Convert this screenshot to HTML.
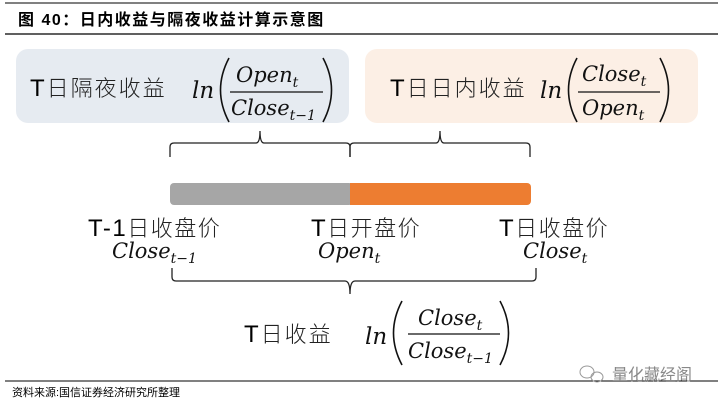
<!DOCTYPE html>
<html><head><meta charset="utf-8"><style>
html,body{margin:0;padding:0;background:#fff;}
svg{display:block}
.cn{font-family:"Liberation Sans","Noto Sans CJK SC",sans-serif;}
.m{font-family:"DejaVu Serif","Liberation Serif",serif;font-style:italic;}
</style></head><body>
<svg width="723" height="407" viewBox="0 0 723 407" xmlns="http://www.w3.org/2000/svg">
<line x1="5" y1="3" x2="718" y2="3" stroke="#000" stroke-width="1"/>
<line x1="5" y1="34" x2="718" y2="34" stroke="#000" stroke-width="1.2"/>
<text x="18" y="25" class="cn" font-size="16" font-weight="bold" letter-spacing="1.5" fill="#000">图 40：日内收益与隔夜收益计算示意图</text>

<rect x="16" y="49" width="333" height="74" rx="12" fill="#e6ebf1"/>
<rect x="365" y="49" width="333" height="74" rx="12" fill="#fcefe5"/>

<g class="cn" font-size="22" fill="#222" font-weight="300" letter-spacing="2">
<text x="30" y="96"><tspan font-size="24" fill="#000">T</tspan>日隔夜收益</text>
<text x="390" y="96"><tspan font-size="24" fill="#000">T</tspan>日日内收益</text>
</g>
<g fill="none" stroke="#111" stroke-width="1.6">
<path d="M229 58 Q212 90 229 122"/><path d="M323 58 Q340 90 323 122"/>
<path d="M577 58 Q560 90 577 122"/><path d="M660 58 Q677 90 660 122"/>
<path d="M402 301 Q385 333 402 365"/><path d="M500 301 Q517 333 500 365"/>
</g>
<g class="m" fill="#111">
<text x="192" y="98" font-size="23">ln</text>
<text x="236" y="82" font-size="21">Open<tspan font-size="14" dy="5">t</tspan></text>
<line x1="230" y1="92" x2="323" y2="92" stroke="#111" stroke-width="1.3"/>
<text x="231" y="115" font-size="21">Close<tspan font-size="14" dy="5">t−1</tspan></text>

<text x="540" y="98" font-size="23">ln</text>
<text x="582" y="81" font-size="21">Close<tspan font-size="14" dy="5">t</tspan></text>
<line x1="578" y1="92" x2="660" y2="92" stroke="#111" stroke-width="1.3"/>
<text x="582" y="115" font-size="21">Open<tspan font-size="14" dy="5">t</tspan></text>
</g>

<g fill="none" stroke="#222" stroke-width="1.3">
<path d="M170 157 V147 Q170 143 174 143 H256 Q260 143 260 131 Q260 143 264 143 H346 Q350 143 350 147 V157"/>
<path d="M350 157 V147 Q350 143 354 143 H436 Q440 143 440 131 Q440 143 444 143 H526 Q530 143 530 147 V157"/>
<path d="M172 268 V277 Q172 281 176 281 H345 Q350 281 350 294 Q350 281 355 281 H532 Q536 281 536 277 V268"/>
</g>

<rect x="170" y="183" width="183" height="22" rx="4" fill="#a6a6a6"/>
<rect x="350" y="183" width="181" height="22" rx="4" fill="#ed7d31"/>
<rect x="350" y="183" width="6" height="22" fill="#ed7d31"/>

<g class="cn" font-size="22" fill="#222" font-weight="300" letter-spacing="1.5">
<text x="88" y="236"><tspan font-size="24" fill="#000">T-1</tspan>日收盘价</text>
<text x="311" y="236"><tspan font-size="24" fill="#000">T</tspan>日开盘价</text>
<text x="499" y="236"><tspan font-size="24" fill="#000">T</tspan>日收盘价</text>
</g>
<g class="m" fill="#111" font-size="21">
<text x="112" y="258">Close<tspan font-size="14" dy="5">t−1</tspan></text>
<text x="318" y="258">Open<tspan font-size="14" dy="5">t</tspan></text>
<text x="523" y="258">Close<tspan font-size="14" dy="5">t</tspan></text>
</g>

<text x="244" y="342" class="cn" font-size="22" fill="#222" font-weight="300" letter-spacing="2"><tspan font-size="24" fill="#000">T</tspan>日收益</text>
<g class="m" fill="#111">
<text x="365" y="344" font-size="23">ln</text>
<text x="418" y="325" font-size="21">Close<tspan font-size="14" dy="5">t</tspan></text>
<line x1="408" y1="334" x2="500" y2="334" stroke="#111" stroke-width="1.3"/>
<text x="408" y="358" font-size="21">Close<tspan font-size="14" dy="5">t−1</tspan></text>
</g>

<line x1="5" y1="381" x2="718" y2="381" stroke="#000" stroke-width="1"/>
<text x="12" y="396" class="cn" font-size="11" fill="#000">资料来源:国信证券经济研究所整理</text>
<g fill="none" stroke="#999" stroke-width="1"><ellipse cx="587" cy="372" rx="7" ry="6"/><ellipse cx="597" cy="377" rx="6" ry="5"/></g>
<text x="612" y="380" class="cn" font-size="16" fill="#888">量化藏经阁</text>
</svg>
</body></html>
